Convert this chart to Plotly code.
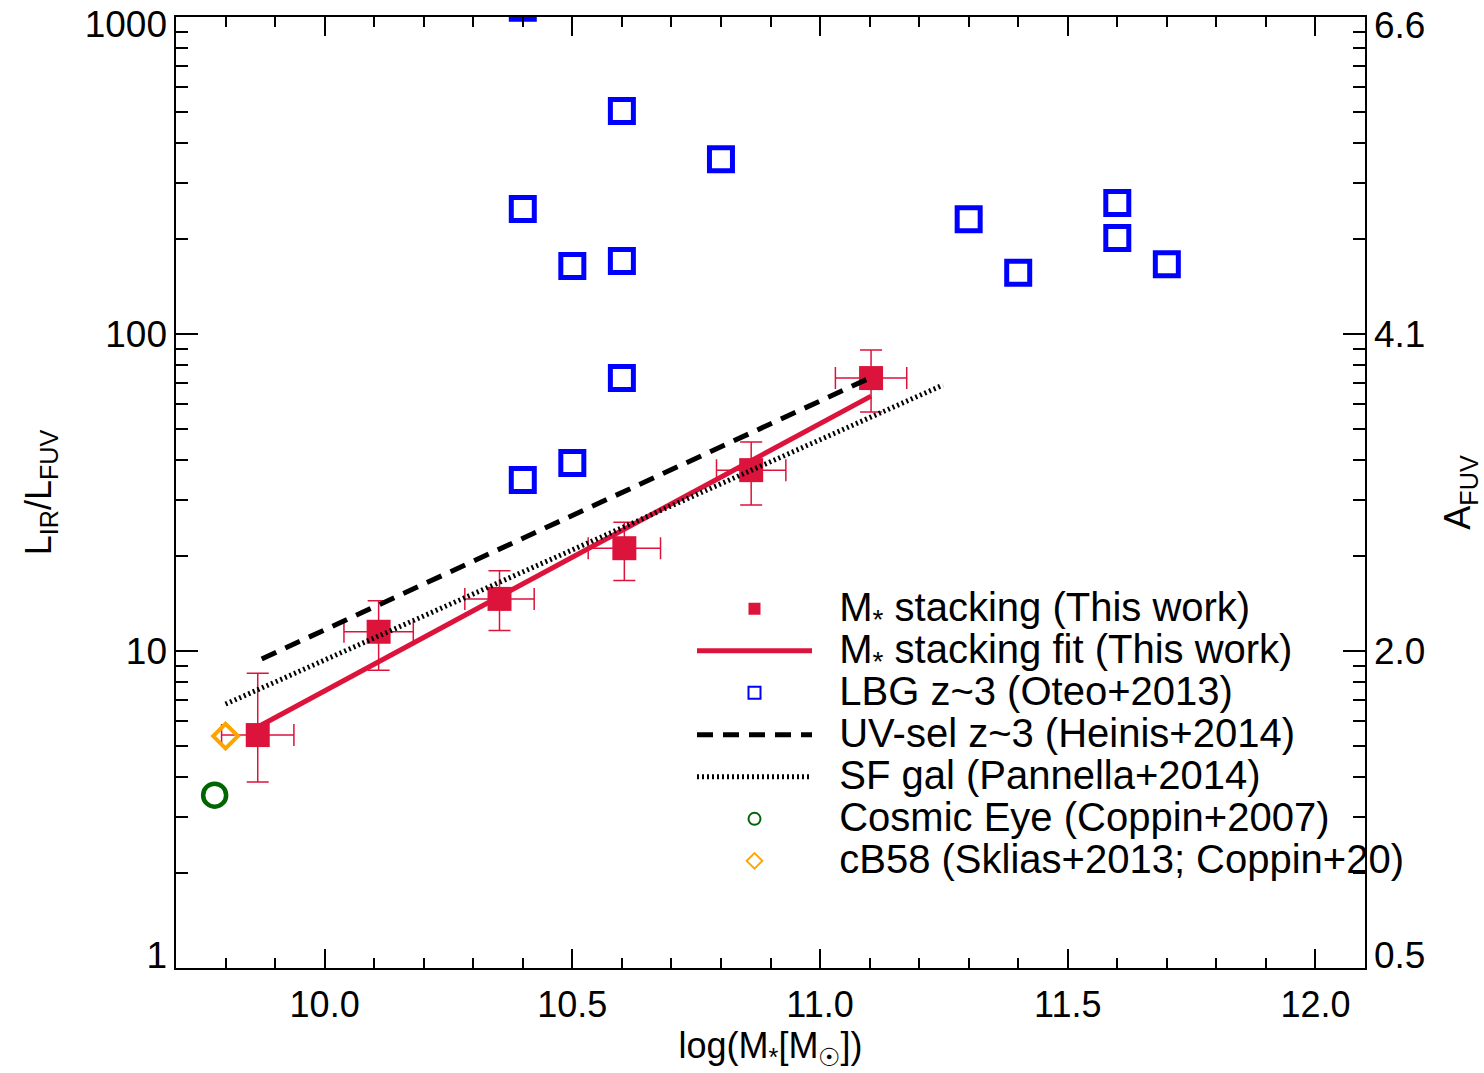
import plotly.graph_objects as go

# ---- data ----
stack_x = [9.865, 10.109, 10.353, 10.605, 10.861, 11.103]
stack_y = [5.43, 11.5, 14.6, 21.1, 37.2, 72.6]
stack_y_hi = [8.5, 14.4, 17.9, 25.5, 45.6, 89.0]
stack_y_lo = [3.86, 8.7, 11.6, 16.7, 28.9, 56.7]
stack_xerr = [0.073, 0.070, 0.070, 0.073, 0.070, 0.072]

fit_x = [9.865, 11.103]
fit_y = [5.76, 63.7]

heinis_x = [9.873, 11.105]
heinis_y = [9.44, 73.2]

pannella_x = [9.80, 11.248]
pannella_y = [6.8, 69.0]

lbg_x = [10.4, 10.6, 10.8, 10.4, 10.5, 10.6, 10.6, 10.5, 10.4, 11.3, 11.4, 11.6, 11.6, 11.7]
lbg_y = [1070, 505, 356, 248, 164, 170, 72.6, 39.2, 34.6, 230, 156, 259, 201, 166]

eye_x = [9.778]
eye_y = [3.51]

cb58_x = [9.80]
cb58_y = [5.39]

# tick marks at decades; labels sit slightly inward at the ends, as in the reference
major_y = [1, 10, 100, 1000]
left_label_pos = [1.1, 10, 100, 950]
left_ticktext = ["1", "10", "100", "1000"]
right_label_pos = [1.1, 10, 100, 940]
right_ticktext = ["0.5", "2.0", "4.1", "6.6"]
x_tickvals = [10.0, 10.5, 11.0, 11.5, 12.0]
x_ticktext = ["10.0", "10.5", "11.0", "11.5", "12.0"]
minor_y = [m * 10 ** k for k in range(3) for m in range(2, 10)]

names = [
    "M<sub>*</sub> stacking (This work)",
    "M<sub>*</sub> stacking fit (This work)",
    "LBG z~3 (Oteo+2013)",
    "UV-sel z~3 (Heinis+2014)",
    "SF gal (Pannella+2014)",
    "Cosmic Eye (Coppin+2007)",
    "cB58 (Sklias+2013; Coppin+20)",
]
LEG = '<span style="font-size:40px">\u00a0\u00a0{}</span>'

CRIMSON = "#DC143C"
FONT = "Liberation Sans, Arial, Helvetica, sans-serif"

err_up = [h - y for h, y in zip(stack_y_hi, stack_y)]
err_dn = [y - l for l, y in zip(stack_y_lo, stack_y)]

fig = go.Figure()

fig.add_trace(go.Scatter(
    x=stack_x, y=stack_y, mode="markers", name=LEG.format(names[0]),
    marker=dict(symbol="square", size=24, color=CRIMSON, line=dict(width=0)),
    error_y=dict(type="data", symmetric=False, array=err_up, arrayminus=err_dn,
                 color=CRIMSON, thickness=1.5, width=11),
    error_x=dict(type="data", array=stack_xerr, color=CRIMSON, thickness=1.5, width=11),
))
fig.add_trace(go.Scatter(
    x=fit_x, y=fit_y, mode="lines", name=LEG.format(names[1]),
    line=dict(color=CRIMSON, width=5),
))
fig.add_trace(go.Scatter(
    x=lbg_x, y=lbg_y, mode="markers", name=LEG.format(names[2]),
    marker=dict(symbol="square-open", size=23, color="#0000FF", line=dict(width=5, color="#0000FF")),
))
fig.add_trace(go.Scatter(
    x=heinis_x, y=heinis_y, mode="lines", name=LEG.format(names[3]),
    line=dict(color="black", width=5, dash="16px,10px"),
))
fig.add_trace(go.Scatter(
    x=pannella_x, y=pannella_y, mode="lines", name=LEG.format(names[4]),
    line=dict(color="black", width=5, dash="2px,3px"),
))
fig.add_trace(go.Scatter(
    x=eye_x, y=eye_y, mode="markers", name=LEG.format(names[5]), yaxis="y3",
    marker=dict(symbol="circle-open", size=23, color="#006400", line=dict(width=4.5, color="#006400")),
))
fig.add_trace(go.Scatter(
    x=cb58_x, y=cb58_y, mode="markers", name=LEG.format(names[6]), yaxis="y2",
    marker=dict(symbol="diamond-open", size=19, color="#FFA500", line=dict(width=4, color="#FFA500")),
))

fig.update_layout(
    width=1484, height=1073,
    margin=dict(l=176, r=119, t=17, b=105, autoexpand=False),
    paper_bgcolor="white", plot_bgcolor="white",
    font=dict(family=FONT, size=37, color="black"),
    showlegend=True,
    legend=dict(
        x=(692 - 176) / 1189, y=0.405, xanchor="left", yanchor="top",
        bgcolor="rgba(0,0,0,0)", borderwidth=0,
        font=dict(size=30, family=FONT, color="black"),
        itemwidth=115, itemsizing="constant",
        tracegroupgap=0,
    ),
    xaxis=dict(
        range=[9.7, 12.1], tickmode="array", tickvals=x_tickvals, ticktext=x_ticktext,
        ticks="inside", ticklen=19, tickwidth=2, tickcolor="black",
        showline=True, linewidth=2, linecolor="black", mirror="ticks",
        showgrid=False, zeroline=False, ticklabelstandoff=4, automargin=False,
        minor=dict(dtick=0.1, tick0=10.0, ticks="inside", ticklen=10, tickwidth=2,
                   tickcolor="black", showgrid=False),
        tickfont=dict(size=36),
        title=dict(text="log(M<sub>*</sub>[M<sub>☉</sub>])", font=dict(size=36), standoff=6),
    ),
    yaxis=dict(
        type="log", range=[0, 3], tickmode="array", tickvals=major_y,
        showticklabels=False,
        ticks="inside", ticklen=22, tickwidth=2, tickcolor="black",
        showline=True, linewidth=2, linecolor="black", mirror="ticks",
        showgrid=False, zeroline=False, automargin=False,
        minor=dict(tickmode="array", tickvals=minor_y, ticks="inside", ticklen=12, tickwidth=2,
                   tickcolor="black", showgrid=False),
    ),
    yaxis3=dict(
        type="log", range=[0, 3], overlaying="y", side="left",
        tickmode="array", tickvals=left_label_pos, ticktext=left_ticktext,
        ticks="", showline=False, showgrid=False, zeroline=False,
        ticklabeloverflow="allow", ticklabelstandoff=8, automargin=False,
        tickfont=dict(size=37),
        title=dict(text="L<sub>IR</sub>/L<sub>FUV</sub>", font=dict(size=36), standoff=22),
    ),
    yaxis2=dict(
        type="log", range=[0, 3], overlaying="y", side="right",
        tickmode="array", tickvals=right_label_pos, ticktext=right_ticktext,
        ticks="", showline=False, showgrid=False, zeroline=False,
        ticklabeloverflow="allow", ticklabelstandoff=8, automargin=False,
        tickfont=dict(size=37),
        title=dict(text="A<sub>FUV</sub>", font=dict(size=36), standoff=20),
    ),
)

fig.write_html("out.html")
